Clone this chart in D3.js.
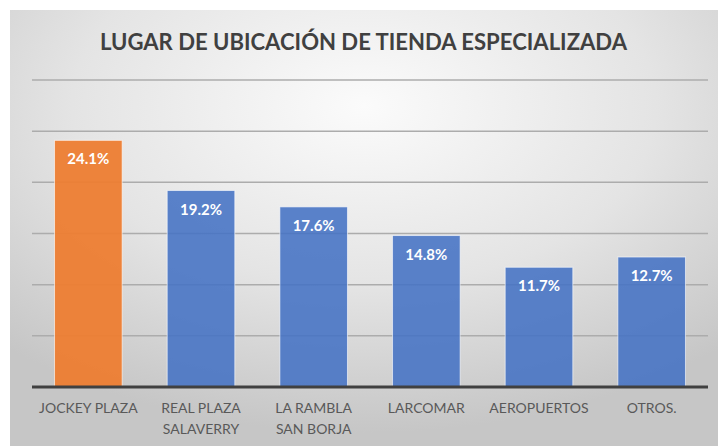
<!DOCTYPE html>
<html>
<head>
<meta charset="utf-8">
<script src="https://cdn.jsdelivr.net/npm/d3@7"></script>
<style>
  html, body { margin: 0; padding: 0; background: #ffffff; }
  svg { display: block; }
</style>
</head>
<body>
<svg id="chart" width="718" height="447"></svg>
<script>
const title = "LUGAR DE UBICACIÓN DE TIENDA ESPECIALIZADA";
const categories = [["JOCKEY PLAZA"], ["REAL PLAZA", "SALAVERRY"], ["LA RAMBLA", "SAN BORJA"], ["LARCOMAR"], ["AEROPUERTOS"], ["OTROS."]];
const values = [24.1, 19.2, 17.6, 14.8, 11.7, 12.7];
const highlight = [true, false, false, false, false, false];
const gridTicks = [0, 5, 10, 15, 20, 25, 30];

const svg = d3.select("#chart");
const W = 718, H = 447;

const defs = svg.append("defs");
const grad = defs.append("radialGradient")
  .attr("id", "bg").attr("cx", "50%").attr("cy", "22%").attr("r", "75%")
  .attr("fx", "50%").attr("fy", "22%");
grad.append("stop").attr("offset", "0%").attr("stop-color", "#fbfbfb");
grad.append("stop").attr("offset", "55%").attr("stop-color", "#e4e4e4");
grad.append("stop").attr("offset", "100%").attr("stop-color", "#c6c6c6");

svg.append("rect").attr("x", 10).attr("y", 10).attr("width", W - 10).attr("height", 436)
  .attr("fill", "url(#bg)");

const keys = categories.map(c => c.join(" "));
const x = d3.scaleBand().domain(keys).range([32, 708]).paddingInner(0.4).paddingOuter(0.2);
const y = d3.scaleLinear().domain([0, 30]).range([387, 80]);

// gridlines
svg.append("g").selectAll("line").data(gridTicks.filter(t => t > 0)).join("line")
  .attr("x1", 32).attr("x2", 708)
  .attr("y1", d => y(d)).attr("y2", d => y(d))
  .attr("stroke", "#acacac").attr("stroke-width", 1.5);

// bars
svg.append("g").selectAll("rect").data(values).join("rect")
  .attr("x", (d, i) => x(keys[i]))
  .attr("y", d => y(d))
  .attr("width", x.bandwidth())
  .attr("height", d => y(0) - y(d))
  .attr("fill", (d, i) => highlight[i] ? "#ed7d31" : "#4472c4")
  .attr("fill-opacity", (d, i) => highlight[i] ? 0.95 : 0.88)
  .attr("stroke", "#ffffff").attr("stroke-opacity", 0.6).attr("stroke-width", 1);

// baseline
svg.append("line").attr("x1", 32).attr("x2", 708).attr("y1", y(0)).attr("y2", y(0))
  .attr("stroke", "#404040").attr("stroke-width", 3);

// value labels
svg.append("g").selectAll("text").data(values).join("text")
  .attr("x", (d, i) => x(keys[i]) + x.bandwidth() / 2)
  .attr("y", d => y(d) + 24)
  .attr("text-anchor", "middle")
  .attr("font-family", "Lato, 'Open Sans', sans-serif")
  .attr("font-weight", "bold").attr("font-size", 15)
  .attr("fill", "#ffffff")
  .text(d => d.toFixed(1) + "%");

// category labels
const cat = svg.append("g").selectAll("text").data(categories).join("text")
  .attr("x", (d, i) => x(keys[i]) + x.bandwidth() / 2)
  .attr("y", 413)
  .attr("text-anchor", "middle")
  .attr("font-family", "Lato, 'Open Sans', sans-serif")
  .attr("font-size", 14)
  .attr("fill", "#595959");
cat.selectAll("tspan").data(d => d).join("tspan")
  .attr("x", function() { return d3.select(this.parentNode).attr("x"); })
  .attr("dy", (d, i) => i === 0 ? 0 : 21)
  .text(d => d);

// title
svg.append("text")
  .attr("x", 363.5).attr("y", 50)
  .attr("text-anchor", "middle")
  .attr("font-family", "Lato, 'Open Sans', sans-serif")
  .attr("font-weight", "bold").attr("font-size", 23)
  .attr("fill", "#404040")
  .attr("textLength", 527).attr("lengthAdjust", "spacingAndGlyphs")
  .text(title);
</script>
</body>
</html>
